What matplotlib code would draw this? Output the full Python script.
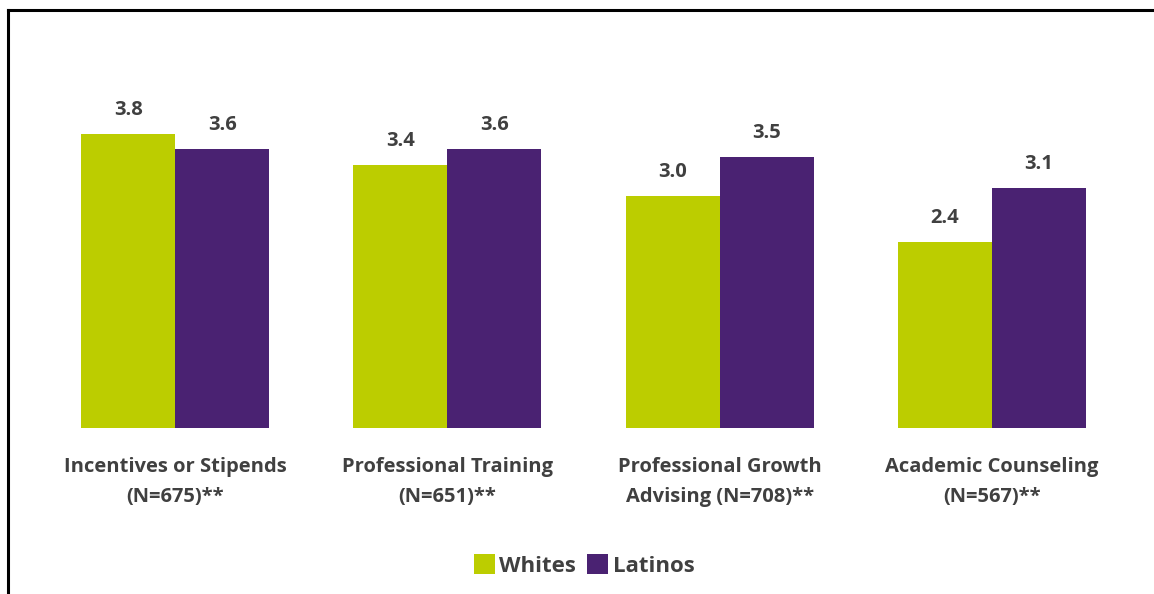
import matplotlib
matplotlib.use("Agg")
import matplotlib.pyplot as plt
import numpy as np
from matplotlib.lines import Line2D

categories = ["Incentives or Stipends\n(N=675)**", "Professional Training\n(N=651)**",
              "Professional Growth\nAdvising (N=708)**", "Academic Counseling\n(N=567)**"]
whites = [3.8, 3.4, 3.0, 2.4]
latinos = [3.6, 3.6, 3.5, 3.1]
series = ["Whites", "Latinos"]

GREEN = "#BCCD00"
PURPLE = "#4A2272"
TXT = "#404040"
plt.rcParams["font.family"] = ["Open Sans", "DejaVu Sans"]

fig = plt.figure(figsize=(11.54, 5.94), dpi=100)
ax = fig.add_axes([0.0338, 0.2795, 0.9437, 0.6515])

x = np.arange(len(categories))
w = 0.345
b1 = ax.bar(x - w / 2, whites, w, color=GREEN, label=series[0])
b2 = ax.bar(x + w / 2, latinos, w, color=PURPLE, label=series[1])
for bars, vals in ((b1, whites), (b2, latinos)):
    for r, v in zip(bars, vals):
        ax.annotate(f"{v:.1f}", (r.get_x() + r.get_width() / 2, v), xytext=(0, 10),
                    textcoords="offset points", ha="center", va="bottom",
                    fontsize=14.5, fontweight="bold", color=TXT)

ax.set_xlim(-0.5, 3.5)
ax.set_ylim(0, 5)
ax.set_xticks(x)
ax.set_xticklabels(categories, fontsize=14.5, fontweight="bold", color=TXT, linespacing=1.65)
ax.tick_params(axis="x", length=0, pad=21)
ax.set_yticks([])
for s in ax.spines.values():
    s.set_visible(False)

leg = fig.legend(handles=[b1, b2], labels=series, loc="center", bbox_to_anchor=(0.506, 0.048),
                 ncol=2, frameon=False, handlelength=0.95, handleheight=0.95, handletextpad=0.2,
                 columnspacing=0.5, prop={"size": 16, "weight": "bold"})
for t in leg.get_texts():
    t.set_color(TXT)

# outer frame (top and left edges)
fig.add_artist(Line2D([8 / 1154, 1], [1 - 10 / 594, 1 - 10 / 594], color="black", lw=2.2,
                      transform=fig.transFigure))
fig.add_artist(Line2D([8 / 1154, 8 / 1154], [0, 1 - 10 / 594], color="black", lw=2.2,
                      transform=fig.transFigure))

fig.savefig("out.png", dpi=100)
